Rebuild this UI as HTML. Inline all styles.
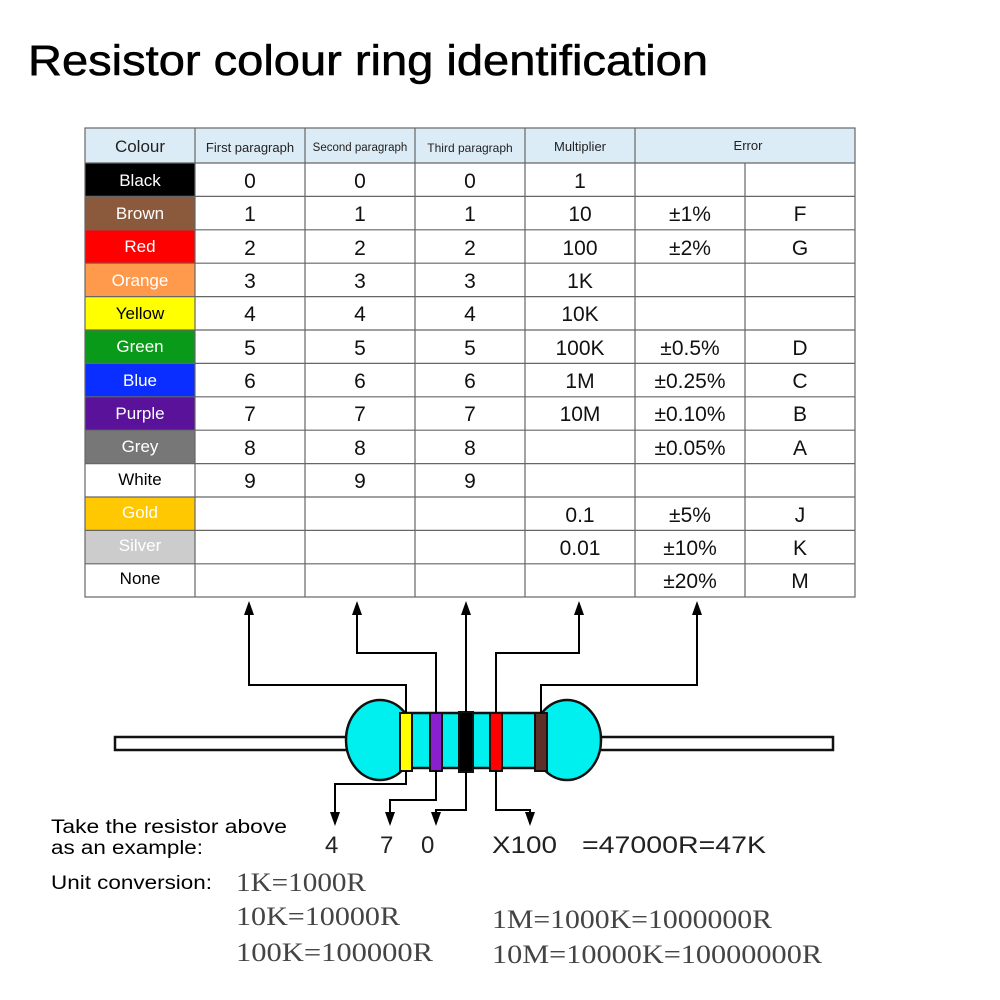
<!DOCTYPE html>
<html><head><meta charset="utf-8"><style>
html,body{margin:0;padding:0;background:#fff;width:1000px;height:1000px;overflow:hidden}
svg{display:block}
text{font-family:"Liberation Sans",sans-serif}
text.s{font-family:"Liberation Serif",serif}
</style></head><body>
<svg width="1000" height="1000" viewBox="0 0 1000 1000" xmlns="http://www.w3.org/2000/svg">
<text x="28" y="75" font-size="43" fill="#000" stroke="#000" stroke-width="0.6" textLength="680" lengthAdjust="spacingAndGlyphs">Resistor colour ring identification</text>
<!-- table header -->
<rect x="85" y="128" width="770" height="35" fill="#dcecf6"/>
<g font-size="13" fill="#222" text-anchor="middle">
<text x="140" y="152" font-size="17">Colour</text>
<text x="250" y="152">First paragraph</text>
<text x="360" y="151" font-size="11.5">Second paragraph</text>
<text x="470" y="152" font-size="12">Third paragraph</text>
<text x="580" y="151">Multiplier</text>
<text x="748" y="150">Error</text>
</g>
<!-- colour cells -->
<g>
<rect x="85" y="163" width="110" height="33.4" fill="#000"/>
<rect x="85" y="196.4" width="110" height="33.4" fill="#8b5a3c"/>
<rect x="85" y="229.8" width="110" height="33.4" fill="#ff0000"/>
<rect x="85" y="263.2" width="110" height="33.4" fill="#ff9a4c"/>
<rect x="85" y="296.6" width="110" height="33.4" fill="#ffff00"/>
<rect x="85" y="330" width="110" height="33.4" fill="#0a9a1a"/>
<rect x="85" y="363.4" width="110" height="33.4" fill="#0a2eff"/>
<rect x="85" y="396.8" width="110" height="33.4" fill="#5a129a"/>
<rect x="85" y="430.2" width="110" height="33.4" fill="#777777"/>
<rect x="85" y="497" width="110" height="33.4" fill="#ffc800"/>
<rect x="85" y="530.4" width="110" height="33.4" fill="#cccccc"/>
</g>
<g font-size="17" text-anchor="middle">
<text x="140" y="186" fill="#fff">Black</text>
<text x="140" y="219" fill="#fff">Brown</text>
<text x="140" y="252" fill="#fff">Red</text>
<text x="140" y="286" fill="#fff">Orange</text>
<text x="140" y="319" fill="#000">Yellow</text>
<text x="140" y="352" fill="#fff">Green</text>
<text x="140" y="386" fill="#fff">Blue</text>
<text x="140" y="419" fill="#fff">Purple</text>
<text x="140" y="452" fill="#fff">Grey</text>
<text x="140" y="485" fill="#000">White</text>
<text x="140" y="518" fill="#fff">Gold</text>
<text x="140" y="551" fill="#fff">Silver</text>
<text x="140" y="584" fill="#000">None</text>
</g>
<g font-size="21" text-anchor="middle" fill="#111">
<text x="250" y="188">0</text><text x="360" y="188">0</text><text x="470" y="188">0</text><text x="580" y="188">1</text>
<text x="250" y="221">1</text><text x="360" y="221">1</text><text x="470" y="221">1</text><text x="580" y="221">10</text><text x="690" y="221">±1%</text><text x="800" y="221">F</text>
<text x="250" y="255">2</text><text x="360" y="255">2</text><text x="470" y="255">2</text><text x="580" y="255">100</text><text x="690" y="255">±2%</text><text x="800" y="255">G</text>
<text x="250" y="288">3</text><text x="360" y="288">3</text><text x="470" y="288">3</text><text x="580" y="288">1K</text>
<text x="250" y="321">4</text><text x="360" y="321">4</text><text x="470" y="321">4</text><text x="580" y="321">10K</text>
<text x="250" y="355">5</text><text x="360" y="355">5</text><text x="470" y="355">5</text><text x="580" y="355">100K</text><text x="690" y="355">±0.5%</text><text x="800" y="355">D</text>
<text x="250" y="388">6</text><text x="360" y="388">6</text><text x="470" y="388">6</text><text x="580" y="388">1M</text><text x="690" y="388">±0.25%</text><text x="800" y="388">C</text>
<text x="250" y="421">7</text><text x="360" y="421">7</text><text x="470" y="421">7</text><text x="580" y="421">10M</text><text x="690" y="421">±0.10%</text><text x="800" y="421">B</text>
<text x="250" y="455">8</text><text x="360" y="455">8</text><text x="470" y="455">8</text><text x="690" y="455">±0.05%</text><text x="800" y="455">A</text>
<text x="250" y="488">9</text><text x="360" y="488">9</text><text x="470" y="488">9</text>
<text x="580" y="522">0.1</text><text x="690" y="522">±5%</text><text x="800" y="522">J</text>
<text x="580" y="555">0.01</text><text x="690" y="555">±10%</text><text x="800" y="555">K</text>
<text x="690" y="588">±20%</text><text x="800" y="588">M</text>
</g>
<!-- grid -->
<g stroke="#666" stroke-width="1.2" fill="none">
<rect x="85" y="128" width="770" height="469"/>
<path d="M85 163H855 M85 196.4H855 M85 229.8H855 M85 263.2H855 M85 296.6H855 M85 330H855 M85 363.4H855 M85 396.8H855 M85 430.2H855 M85 463.6H855 M85 497H855 M85 530.4H855 M85 563.8H855"/>
<path d="M195 128V597 M305 128V597 M415 128V597 M525 128V597 M635 128V597 M745 163V597"/>
</g>
<!-- resistor -->
<g stroke="#111" stroke-width="2.5">
<rect x="115" y="737" width="240" height="13" fill="#fff"/>
<rect x="590" y="737" width="243" height="13" fill="#fff"/>
<rect x="385" y="713" width="175" height="55" fill="#00f0f0"/>
<ellipse cx="380" cy="740" rx="34" ry="40" fill="#00f0f0"/>
<ellipse cx="567" cy="740" rx="34" ry="40" fill="#00f0f0"/>
</g>
<rect x="386" y="714.5" width="173" height="52" fill="#00f0f0"/>
<g stroke="#111" stroke-width="2">
<rect x="400" y="713" width="12" height="58" fill="#ffff00"/>
<rect x="430" y="713" width="12" height="58" fill="#8a1fd0"/>
<rect x="459" y="712" width="14" height="60" fill="#000"/>
<rect x="490" y="713" width="12" height="58" fill="#ff0000"/>
<rect x="535" y="713" width="12" height="58" fill="#5a3028"/>
</g>
<!-- connectors -->
<g stroke="#000" stroke-width="2" fill="none">
<path d="M406 713V685H249V612"/>
<path d="M436 713V653H357V612"/>
<path d="M466 712V612"/>
<path d="M496 713V653H579V612"/>
<path d="M541 713V685H697V612"/>
<path d="M406 771V784H335V812"/>
<path d="M436 771V800H390V812"/>
<path d="M466 772V810H436V812"/>
<path d="M496 771V810H530V812"/>
</g>
<g fill="#000">
<path d="M249 601l-5 14h10z"/><path d="M357 601l-5 14h10z"/><path d="M466 601l-5 14h10z"/><path d="M579 601l-5 14h10z"/><path d="M697 601l-5 14h10z"/>
<path d="M335 826l-5-14h10z"/><path d="M390 826l-5-14h10z"/><path d="M436 826l-5-14h10z"/><path d="M530 826l-5-14h10z"/>
</g>
<!-- bottom text -->
<g font-size="19" fill="#000">
<text x="51" y="833" textLength="236" lengthAdjust="spacingAndGlyphs">Take the resistor above</text>
<text x="51" y="854" textLength="152" lengthAdjust="spacingAndGlyphs">as an example:</text>
<text x="51" y="889" textLength="161" lengthAdjust="spacingAndGlyphs">Unit conversion:</text>
</g>
<g font-size="24" fill="#222">
<text x="325" y="853">4</text><text x="380" y="853">7</text><text x="421" y="853">0</text>
<text x="492" y="853" textLength="65" lengthAdjust="spacingAndGlyphs">X100</text><text x="582" y="853" textLength="184" lengthAdjust="spacingAndGlyphs">=47000R=47K</text>
</g>
<g font-size="26" fill="#444">
<text class="s" x="236" y="891" textLength="130" lengthAdjust="spacingAndGlyphs">1K=1000R</text>
<text class="s" x="236" y="925" textLength="164" lengthAdjust="spacingAndGlyphs">10K=10000R</text>
<text class="s" x="236" y="961" textLength="197" lengthAdjust="spacingAndGlyphs">100K=100000R</text>
<text class="s" x="492" y="928" textLength="280" lengthAdjust="spacingAndGlyphs">1M=1000K=1000000R</text>
<text class="s" x="492" y="963" textLength="330" lengthAdjust="spacingAndGlyphs">10M=10000K=10000000R</text>
</g>
</svg>
</body></html>
